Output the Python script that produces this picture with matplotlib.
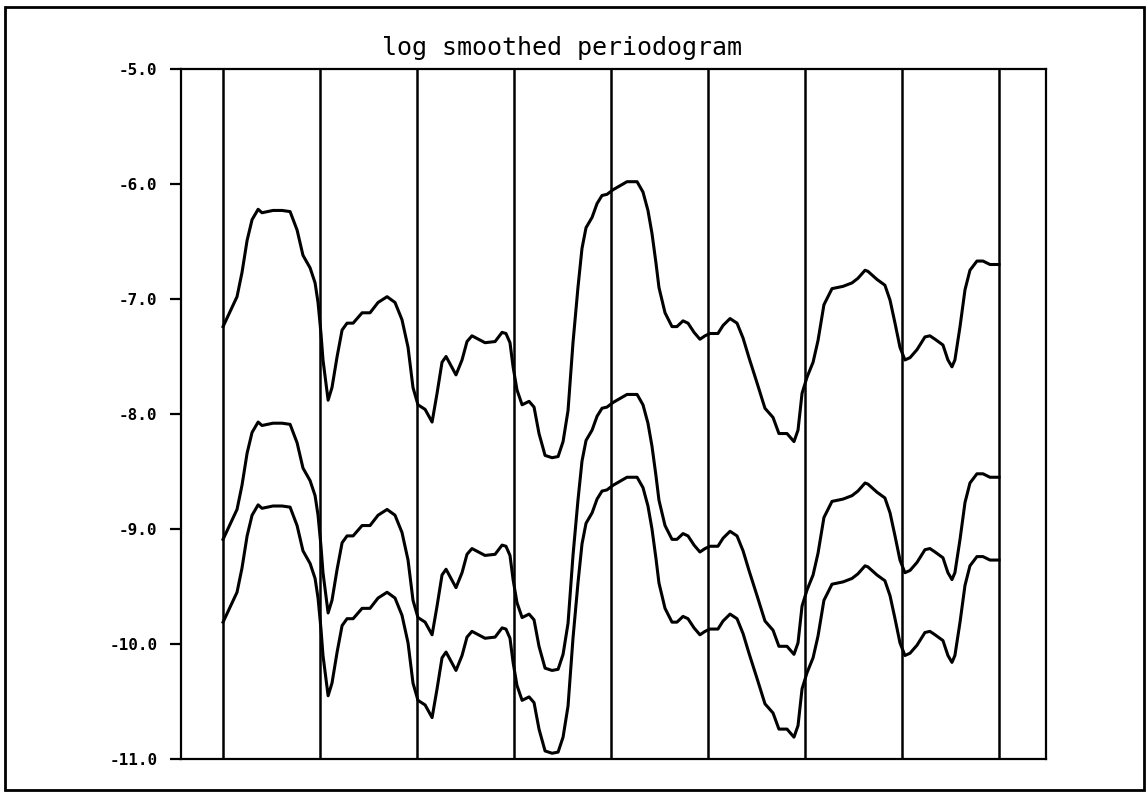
import numpy as np
import matplotlib.pyplot as plt
from matplotlib.patches import Rectangle

# Smoothed log periodogram (cycles per sample) with its confidence band
freq = [0.0000, 0.0090, 0.0122, 0.0155, 0.0187, 0.0226, 0.0251, 0.0322, 0.0380, 0.0432,
        0.0477, 0.0515, 0.0561, 0.0593, 0.0612, 0.0631, 0.0644, 0.0677, 0.0702, 0.0735,
        0.0767, 0.0799, 0.0838, 0.0896, 0.0947, 0.0999, 0.1057, 0.1108, 0.1153, 0.1192,
        0.1224, 0.1256, 0.1302, 0.1347, 0.1379, 0.1411, 0.1437, 0.1501, 0.1540, 0.1572,
        0.1604, 0.1688, 0.1753, 0.1798, 0.1823, 0.1849, 0.1869, 0.1894, 0.1927, 0.1972,
        0.2004, 0.2036, 0.2075, 0.2120, 0.2159, 0.2191, 0.2223, 0.2255, 0.2287, 0.2313,
        0.2339, 0.2378, 0.2410, 0.2442, 0.2474, 0.2513, 0.2603, 0.2668, 0.2706, 0.2738,
        0.2764, 0.2790, 0.2809, 0.2848, 0.2893, 0.2925, 0.2964, 0.2996, 0.3035, 0.3073,
        0.3106, 0.3138, 0.3189, 0.3222, 0.3267, 0.3312, 0.3351, 0.3389, 0.3441, 0.3492,
        0.3544, 0.3582, 0.3634, 0.3679, 0.3705, 0.3731, 0.3763, 0.3802, 0.3834, 0.3872,
        0.3924, 0.3995, 0.4053, 0.4091, 0.4137, 0.4156, 0.4214, 0.4265, 0.4298, 0.4330,
        0.4362, 0.4394, 0.4427, 0.4472, 0.4523, 0.4555, 0.4588, 0.4639, 0.4671, 0.4697,
        0.4716, 0.4749, 0.4781, 0.4813, 0.4858, 0.4897, 0.4942, 0.5000]

log_spec = [-9.09, -8.83, -8.62, -8.34, -8.16, -8.07, -8.10, -8.08, -8.08, -8.09,
            -8.25, -8.47, -8.58, -8.71, -8.88, -9.15, -9.38, -9.73, -9.62, -9.35,
            -9.12, -9.06, -9.06, -8.97, -8.97, -8.88, -8.83, -8.88, -9.03, -9.27,
            -9.62, -9.77, -9.81, -9.92, -9.67, -9.40, -9.35, -9.51, -9.38, -9.22,
            -9.17, -9.23, -9.22, -9.14, -9.15, -9.23, -9.44, -9.64, -9.77, -9.74,
            -9.79, -10.02, -10.21, -10.23, -10.22, -10.09, -9.82, -9.23, -8.75, -8.41,
            -8.23, -8.14, -8.02, -7.95, -7.94, -7.90, -7.83, -7.83, -7.92, -8.08,
            -8.28, -8.54, -8.75, -8.97, -9.09, -9.09, -9.04, -9.06, -9.14, -9.20,
            -9.17, -9.15, -9.15, -9.08, -9.02, -9.06, -9.19, -9.36, -9.58, -9.80,
            -9.88, -10.02, -10.02, -10.09, -9.99, -9.67, -9.53, -9.40, -9.21, -8.90,
            -8.76, -8.74, -8.71, -8.67, -8.60, -8.61, -8.68, -8.73, -8.86, -9.06,
            -9.27, -9.38, -9.36, -9.29, -9.18, -9.17, -9.20, -9.25, -9.38, -9.44,
            -9.38, -9.09, -8.77, -8.60, -8.52, -8.52, -8.55, -8.55]

# band offsets on the log scale (upper is wider than lower)
ci_upper = 1.85
ci_lower = 0.72

y_ticks = [-5.0, -6.0, -7.0, -8.0, -9.0, -10.0, -11.0]
y_tick_labels = ['-5.0', '-6.0', '-7.0', '-8.0', '-9.0', '-10.0', '-11.0']

freq = np.array(freq)
log_spec = np.array(log_spec)

fig = plt.figure(figsize=(11.46, 7.97), dpi=100)
ax = fig.add_axes([181 / 1146, 1 - 759 / 797, (1046 - 181) / 1146, (759 - 69) / 797])

# vertical reference lines every 1/16 cycle
for f in np.arange(0, 0.5001, 1 / 16):
    ax.axvline(f, color='black', lw=1.8, zorder=1)

ax.plot(freq, log_spec + ci_upper, color='black', lw=2.2, zorder=2)
ax.plot(freq, log_spec, color='black', lw=2.2, zorder=2)
ax.plot(freq, log_spec - ci_lower, color='black', lw=2.2, zorder=2)

ax.set_xlim(-0.0271, 0.5303)
ax.set_ylim(-11, -5)
ax.set_xticks([])
ax.set_yticks(y_ticks)
ax.set_yticklabels(y_tick_labels, family='DejaVu Sans Mono', fontweight='bold', fontsize=11.5)
ax.tick_params(axis='y', direction='out', length=8, width=1.6, pad=9)
for spine in ax.spines.values():
    spine.set_linewidth(1.6)

fig.text(562 / 1146, 1 - 48 / 797, 'log smoothed periodogram', ha='center', va='center',
         family='DejaVu Sans Mono', fontsize=18)

# border round the whole page
fig.patches.append(Rectangle((5 / 1146, 1 - 790 / 797), 1139 / 1146, 783 / 797,
                             transform=fig.transFigure, fill=False, lw=2, color='black'))

plt.savefig('out.png', dpi=100)
